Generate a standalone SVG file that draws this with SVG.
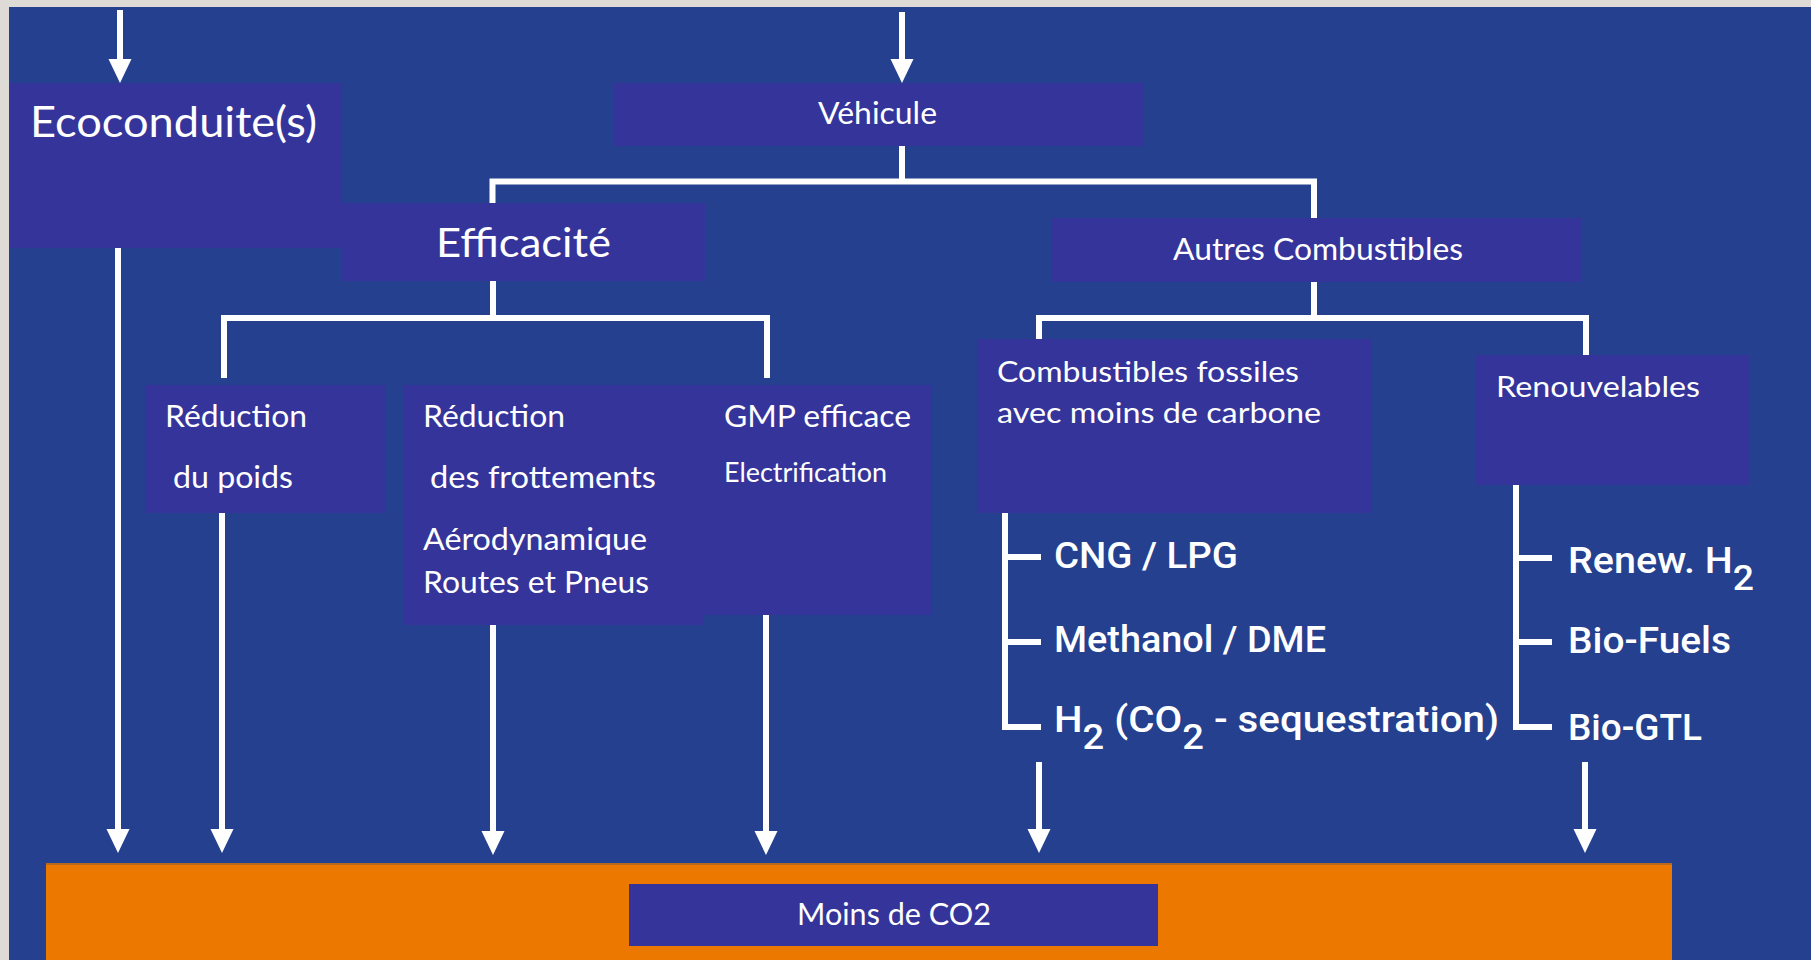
<svg xmlns="http://www.w3.org/2000/svg" width="1811" height="960" viewBox="0 0 1811 960">
<style>
.node{fill:#35349A}
.t{font-family:Lato,"Open Sans","Liberation Sans",sans-serif;fill:#FFFFFF}
.b{font-family:Roboto,"Liberation Sans",sans-serif;font-weight:500;fill:#FFFFFF;font-size:37px}
.con{fill:none;stroke:#FFFFFF;stroke-width:6}
.arr{marker-end:url(#ah)}
</style>
<defs>
<marker id="ah" viewBox="0 0 24 24" refX="4" refY="12" markerWidth="24" markerHeight="24" markerUnits="userSpaceOnUse" orient="auto">
<path d="M0,0.5 L24,12 L0,23.5 Z" fill="#FFFFFF"/>
</marker>
</defs>
<rect x="0" y="0" width="1811" height="960" fill="#DEDAD6"/>
<rect x="9" y="7" width="1802" height="953" fill="#24408F"/>
<rect x="46" y="864" width="1626" height="96" fill="#EC7800"/>
<rect x="46" y="863" width="1626" height="2" fill="#B8691E"/>

<g id="connectors">
<path class="con arr" d="M120,10 V63"/>
<path class="con arr" d="M902,12 V63"/>
<path class="con" d="M902,146 V181.5 M492.5,203 V181.5 H1314 V218"/>
<path class="con" d="M493,281 V318 M224,378 V318 H767 V378"/>
<path class="con" d="M1314,282 V318 M1039,339 V318 H1586 V355"/>
<path class="con" d="M1005,513 V727 H1041 M1005,557 H1041 M1005,642 H1041"/>
<path class="con" d="M1516,485 V727 H1552 M1516,558 H1552 M1516,642 H1552"/>
<path class="con arr" d="M118,248 V833"/>
<path class="con arr" d="M222,513 V833"/>
<path class="con arr" d="M493,625 V835"/>
<path class="con arr" d="M766,615 V835"/>
<path class="con arr" d="M1039,762 V833"/>
<path class="con arr" d="M1585,762 V833"/>
</g>

<g id="eco">
<rect class="node" x="9" y="83" width="333" height="165"/>
<text class="t" x="30" y="137" font-size="42" textLength="287" lengthAdjust="spacingAndGlyphs">Ecoconduite(s)</text>
</g>
<g id="vehicule">
<rect class="node" x="614" y="83" width="529" height="63"/>
<text class="t" x="818" y="124" font-size="30.5" textLength="119" lengthAdjust="spacingAndGlyphs">Véhicule</text>
</g>
<g id="efficacite">
<rect class="node" x="342" y="203" width="363" height="78"/>
<text class="t" x="436" y="257" font-size="40" textLength="175" lengthAdjust="spacingAndGlyphs">Efficacité</text>
</g>
<g id="autres">
<rect class="node" x="1051" y="218" width="530" height="64"/>
<text class="t" x="1173" y="260" font-size="30" textLength="290" lengthAdjust="spacingAndGlyphs">Autres Combustibles</text>
</g>
<g id="poids">
<rect class="node" x="145" y="385" width="241" height="128"/>
<text class="t" x="165" y="427" font-size="30.5" textLength="142" lengthAdjust="spacingAndGlyphs">Réduction</text>
<text class="t" x="173" y="488" font-size="30.5" textLength="120" lengthAdjust="spacingAndGlyphs">du poids</text>
</g>
<g id="frottements">
<rect class="node" x="403" y="385" width="301" height="240"/>
<text class="t" x="423" y="427" font-size="30.5" textLength="142" lengthAdjust="spacingAndGlyphs">Réduction</text>
<text class="t" x="430" y="488" font-size="30.5" textLength="226" lengthAdjust="spacingAndGlyphs">des frottements</text>
<text class="t" x="423" y="550" font-size="30.5" textLength="224" lengthAdjust="spacingAndGlyphs">Aérodynamique</text>
<text class="t" x="423" y="593" font-size="30.5" textLength="226" lengthAdjust="spacingAndGlyphs">Routes et Pneus</text>
</g>
<g id="gmp">
<rect class="node" x="704" y="385" width="228" height="230"/>
<text class="t" x="724" y="427" font-size="30.5" textLength="187" lengthAdjust="spacingAndGlyphs">GMP efficace</text>
<text class="t" x="724" y="482" font-size="26" textLength="163" lengthAdjust="spacingAndGlyphs">Electrification</text>
</g>
<g id="fossiles">
<rect class="node" x="977" y="339" width="395" height="174"/>
<text class="t" x="997" y="382" font-size="28.5" textLength="302" lengthAdjust="spacingAndGlyphs">Combustibles fossiles</text>
<text class="t" x="997" y="423" font-size="28.5" textLength="324" lengthAdjust="spacingAndGlyphs">avec moins de carbone</text>
</g>
<g id="renouvelables">
<rect class="node" x="1476" y="355" width="273" height="130"/>
<text class="t" x="1496" y="397" font-size="28.5" textLength="204" lengthAdjust="spacingAndGlyphs">Renouvelables</text>
</g>
<g id="fossil-list">
<text class="b" x="1054" y="568" textLength="184" lengthAdjust="spacingAndGlyphs">CNG / LPG</text>
<text class="b" x="1054" y="652" textLength="272" lengthAdjust="spacingAndGlyphs">Methanol / DME</text>
<text class="b" x="1054" y="732" textLength="445" lengthAdjust="spacingAndGlyphs">H<tspan dy="17" font-size="35">2</tspan><tspan dy="-17"> (CO</tspan><tspan dy="17" font-size="35">2</tspan><tspan dy="-17"> - sequestration)</tspan></text>
</g>
<g id="renew-list">
<text class="b" x="1568" y="573" textLength="186" lengthAdjust="spacingAndGlyphs">Renew. H<tspan dy="17" font-size="35">2</tspan></text>
<text class="b" x="1568" y="653" textLength="163" lengthAdjust="spacingAndGlyphs">Bio-Fuels</text>
<text class="b" x="1568" y="740" textLength="134" lengthAdjust="spacingAndGlyphs">Bio-GTL</text>
</g>
<g id="moins">
<rect class="node" x="629" y="884" width="529" height="62"/>
<text class="t" x="797" y="925" font-size="30.5" textLength="194" lengthAdjust="spacingAndGlyphs">Moins de CO2</text>
</g>
</svg>
